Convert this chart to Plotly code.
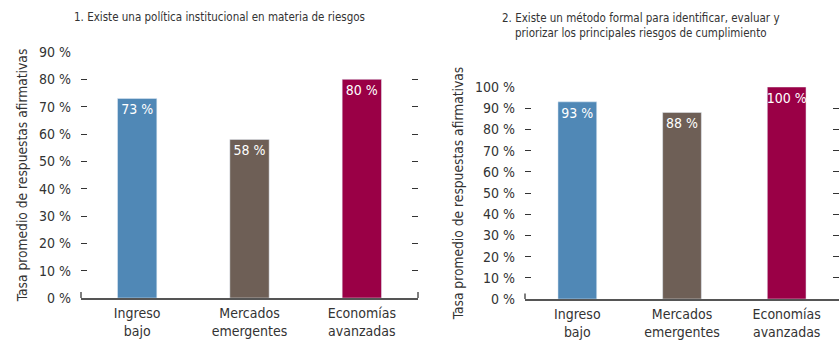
import plotly.graph_objects as go

categories = ["Ingreso<br>bajo", "Mercados<br>emergentes", "Economías<br>avanzadas"]
values_1 = [73, 58, 80]
values_2 = [93, 88, 100]
colors = ["#5088B6", "#6E5F56", "#9A0046"]
title_1 = "1. Existe una política institucional en materia de riesgos"
title_2 = "2. Existe un método formal para identificar, evaluar y<br>priorizar los principales riesgos de cumplimiento"
ytitle = "Tasa promedio de respuestas afirmativas"

FONT = "Liberation Sans Narrow, DejaVu Sans Condensed, Arial Narrow, sans-serif"
TXT = "#333333"

fig = go.Figure()
fig.add_trace(go.Bar(x=categories, y=values_1, marker_color=colors, width=0.35,
                     text=[f"{v} %" for v in values_1], textposition="inside",
                     insidetextanchor="end", textangle=0, constraintext="none",
                     textfont=dict(color="white", size=14, family=FONT),
                     xaxis="x", yaxis="y", showlegend=False))
fig.add_trace(go.Bar(x=categories, y=values_2, marker_color=colors, width=0.37,
                     text=[f"{v} %" for v in values_2], textposition="inside",
                     insidetextanchor="end", textangle=0, constraintext="none",
                     textfont=dict(color="white", size=14, family=FONT),
                     xaxis="x2", yaxis="y2", showlegend=False))

W, H = 839, 340
def fx(px):
    return px / W
def fy(py):
    return (H - py) / H

xcommon = dict(showline=True, linecolor="#555555", linewidth=1.5, ticks="",
               tickfont=dict(size=14, color=TXT, family=FONT), showgrid=False,
               zeroline=False, fixedrange=True, ticklabelstandoff=1, automargin=False)
ycommon = dict(showline=False, showgrid=False, zeroline=False, ticks="inside",
               ticklen=6, tickwidth=1, tickcolor="#333333", mirror="ticks",
               ticksuffix=" %", tickfont=dict(size=14, color=TXT, family=FONT),
               ticklabelstandoff=9, dtick=10, automargin=False,
               title=dict(text=ytitle, font=dict(size=13.7, color=TXT, family=FONT), standoff=8))

fig.update_layout(
    width=W, height=H, margin=dict(l=0, r=0, t=0, b=0, autoexpand=False),
    paper_bgcolor="white", plot_bgcolor="white",
    font=dict(family=FONT, color=TXT),
    bargap=0.6,
    xaxis=dict(domain=[fx(81), fx(418)], anchor="y", **xcommon),
    yaxis=dict(domain=[fy(298), fy(52)], range=[0, 90], anchor="x", **ycommon),
    xaxis2=dict(domain=[fx(525), 1.0], anchor="y2", **xcommon),
    yaxis2=dict(domain=[fy(299), fy(87)], range=[0, 100], anchor="x2", **ycommon),
    annotations=[
        dict(text=title_1, xref="paper", yref="paper", x=fx(219), y=fy(17),
             xanchor="center", yanchor="middle", showarrow=False,
             font=dict(size=11.5, color=TXT, family=FONT)),
        dict(text=title_2, xref="paper", yref="paper", x=fx(641), y=fy(26),
             xanchor="center", yanchor="middle", showarrow=False, align="center",
             font=dict(size=11.5, color=TXT, family=FONT)),
    ],
    shapes=[
        dict(type="line", xref="x domain", yref="y", x0=0, x1=0, y0=0, y1=2.2,
             line=dict(color="#555555", width=1.5)),
        dict(type="line", xref="x domain", yref="y", x0=1, x1=1, y0=0, y1=2.2,
             line=dict(color="#555555", width=1.5)),
        dict(type="line", xref="x2 domain", yref="y2", x0=0, x1=0, y0=0, y1=2.6,
             line=dict(color="#555555", width=1.5)),
    ],
)

fig.write_html("out.html")
